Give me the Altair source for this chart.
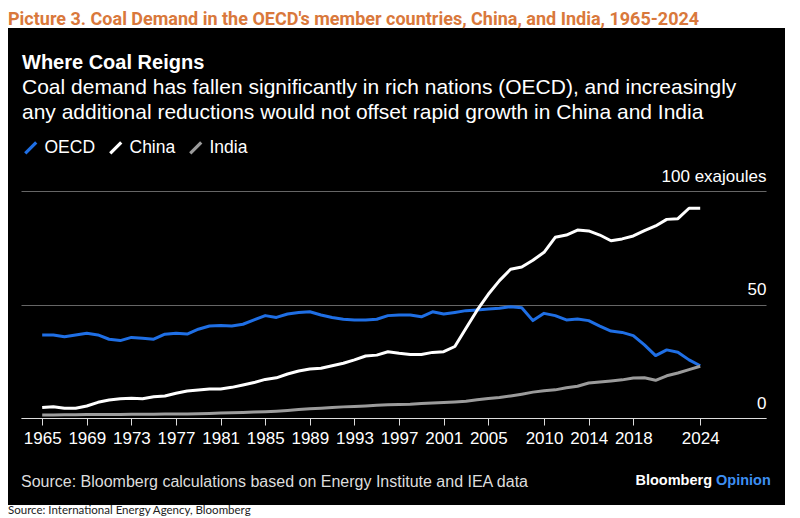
import altair as alt
import pandas as pd

# ---------------- data ----------------
years = list(range(1965, 2025))
oecd = [36.6, 36.6, 35.8, 36.6, 37.3, 36.6, 34.7, 34.1, 35.5, 35.1,
        34.7, 36.9, 37.3, 37.0, 39.1, 40.5, 40.8, 40.5, 41.3, 43.2,
        45.1, 44.3, 45.8, 46.5, 46.8, 45.4, 44.3, 43.5, 43.2, 43.2,
        43.5, 45.1, 45.4, 45.4, 44.6, 46.8, 45.8, 46.5, 47.3, 47.6,
        48.0, 48.3, 49.0, 48.6, 42.9, 46.1, 45.1, 43.2, 43.6, 42.9,
        40.5, 38.3, 37.7, 36.3, 32.2, 27.5, 30.0, 29.0, 25.6, 23.0]
china = [4.6, 5.0, 4.3, 4.3, 5.3, 6.9, 7.9, 8.5, 8.7, 8.5,
         9.4, 9.7, 10.9, 11.9, 12.3, 12.8, 12.8, 13.5, 14.5, 15.6,
         17.0, 17.7, 19.4, 20.7, 21.6, 21.9, 23.0, 24.1, 25.6, 27.3,
         27.7, 29.2, 28.5, 28.0, 28.0, 28.9, 29.2, 31.5, 39.5, 47.5,
         54.5, 60.5, 65.5, 66.5, 69.5, 73.0, 79.6, 80.6, 82.8, 82.4,
         80.6, 78.1, 78.9, 80.2, 82.5, 84.6, 87.5, 87.8, 92.4, 92.4]
india = [1.3, 1.3, 1.4, 1.4, 1.5, 1.5, 1.5, 1.5, 1.6, 1.6,
         1.7, 1.8, 1.8, 1.8, 1.9, 2.0, 2.2, 2.3, 2.4, 2.6,
         2.8, 3.0, 3.3, 3.7, 4.1, 4.3, 4.6, 4.9, 5.1, 5.3,
         5.6, 5.8, 6.0, 6.1, 6.4, 6.6, 6.8, 7.1, 7.4, 8.0,
         8.6, 9.0, 9.7, 10.5, 11.4, 12.0, 12.4, 13.3, 14.0, 15.4,
         15.9, 16.3, 16.8, 17.6, 17.7, 16.6, 18.6, 19.8, 21.3, 22.8]
series_names = ["OECD", "China", "India"]
series_colors = ["#1f6fe5", "#ffffff", "#9b9b9b"]
x_tick_years = [1965, 1969, 1973, 1977, 1981, 1985, 1989, 1993, 1997,
                2001, 2005, 2010, 2014, 2018, 2024]
y_ticks = [0, 50, 100]

picture_title = "Picture 3. Coal Demand in the OECD's member countries, China, and India, 1965-2024"
chart_title = "Where Coal Reigns"
subtitle_lines = ["Coal demand has fallen significantly in rich nations (OECD), and increasingly",
                  "any additional reductions would not offset rapid growth in China and India"]
source_text = "Source: Bloomberg calculations based on Energy Institute and IEA data"
brand_1 = "Bloomberg"
brand_2 = "Opinion"
bottom_source = "Source: International Energy Agency, Bloomberg"

df = pd.DataFrame({
    "year": years * 3,
    "value": oecd + china + india,
    "series": ["OECD"] * len(years) + ["China"] * len(years) + ["India"] * len(years),
})

# ---------------- layout ----------------
W, H = 745, 227
PAD_L, PAD_T, PAD_R, PAD_B = 13, 183, 26, 102
FONT = "Liberation Sans"

def sx(px):
    return px - 21

def sy(py):
    return py - 191

lines = alt.Chart(df).mark_line(strokeWidth=3, strokeJoin="round").encode(
    x=alt.X("year:Q",
            scale=alt.Scale(domain=[1963.1, 2029.9], nice=False, zero=False),
            axis=alt.Axis(values=x_tick_years, format="d", title=None, grid=False,
                          tickSize=7, tickColor="#dddddd", tickWidth=1,
                          domainColor="#dddddd", domainWidth=1,
                          labelColor="#ffffff", labelFontSize=17, labelFont=FONT,
                          labelPadding=5, labelFlush=False, labelOverlap=False)),
    y=alt.Y("value:Q",
            scale=alt.Scale(domain=[0, 100], nice=False),
            axis=alt.Axis(orient="right", values=y_ticks, title=None, ticks=False,
                          domain=False, grid=True, gridColor="#666666", gridWidth=1,
                          labelAlign="right", labelPadding=0, labelBaseline="alphabetic",
                          labelOffset=-10, labelColor="#ffffff", labelFontSize=17,
                          labelFont=FONT,
                          labelExpr="datum.value == 100 ? '100 exajoules' : datum.label")),
    color=alt.Color("series:N",
                    scale=alt.Scale(domain=series_names, range=series_colors),
                    legend=alt.Legend(orient="none", legendX=1, legendY=-52,
                                      direction="horizontal", title=None,
                                      symbolType="M-1,1L1,-1", symbolSize=120,
                                      symbolStrokeWidth=3.2, labelFontSize=17.5,
                                      labelColor="#ffffff", labelFont=FONT,
                                      labelOffset=5, columnPadding=7, padding=0)),
)

def rect(x1, x2, y1, y2, color):
    return alt.Chart(pd.DataFrame({"k": [0]})).mark_rect(color=color).encode(
        x=alt.value(x1), x2=alt.value(x2), y=alt.value(y1), y2=alt.value(y2))

def text(t, x, y, size, color, weight="normal", align="left", font=FONT, baseline="middle"):
    return alt.Chart(pd.DataFrame({"t": [t]})).mark_text(
        align=align, baseline=baseline, fontSize=size, fontWeight=weight,
        color=color, font=font).encode(
        x=alt.value(x), y=alt.value(y), text="t:N")

top_strip = rect(-13, W + 26, -183, sy(28), "white")
right_strip = rect(sx(785), W + 26, -183, H + PAD_B, "white")
bottom_strip = rect(-13, W + 26, sy(505), H + PAD_B, "white")

layers = [
    top_strip, right_strip, bottom_strip,
    lines,
    text(picture_title, sx(8), sy(24.8), 18, "#d9783b", "bold", font="Roboto",
         baseline="alphabetic"),
    text(chart_title, sx(22), sy(63), 20, "#ffffff", "bold"),
    text(subtitle_lines[0], sx(22), sy(88), 21, "#ffffff"),
    text(subtitle_lines[1], sx(22), sy(113), 21, "#ffffff"),
    text(source_text, sx(21), sy(482), 16, "#dddddd"),
    text(brand_1, sx(712), sy(481), 14.5, "#ffffff", "bold", align="right"),
    text(brand_2, sx(716), sy(481), 14.5, "#3d8ff2", "bold", align="left"),
    text(bottom_source, sx(8), sy(511), 11.5, "#222222", font="Lato"),
]

chart = alt.layer(*layers).properties(
    width=W, height=H,
    autosize=alt.AutoSizeParams(type="none"),
    padding={"left": PAD_L, "top": PAD_T, "right": PAD_R, "bottom": PAD_B},
    background="black",
).configure_view(strokeWidth=0)

chart.save("out.html", embed_options={"renderer": "svg", "actions": False})
